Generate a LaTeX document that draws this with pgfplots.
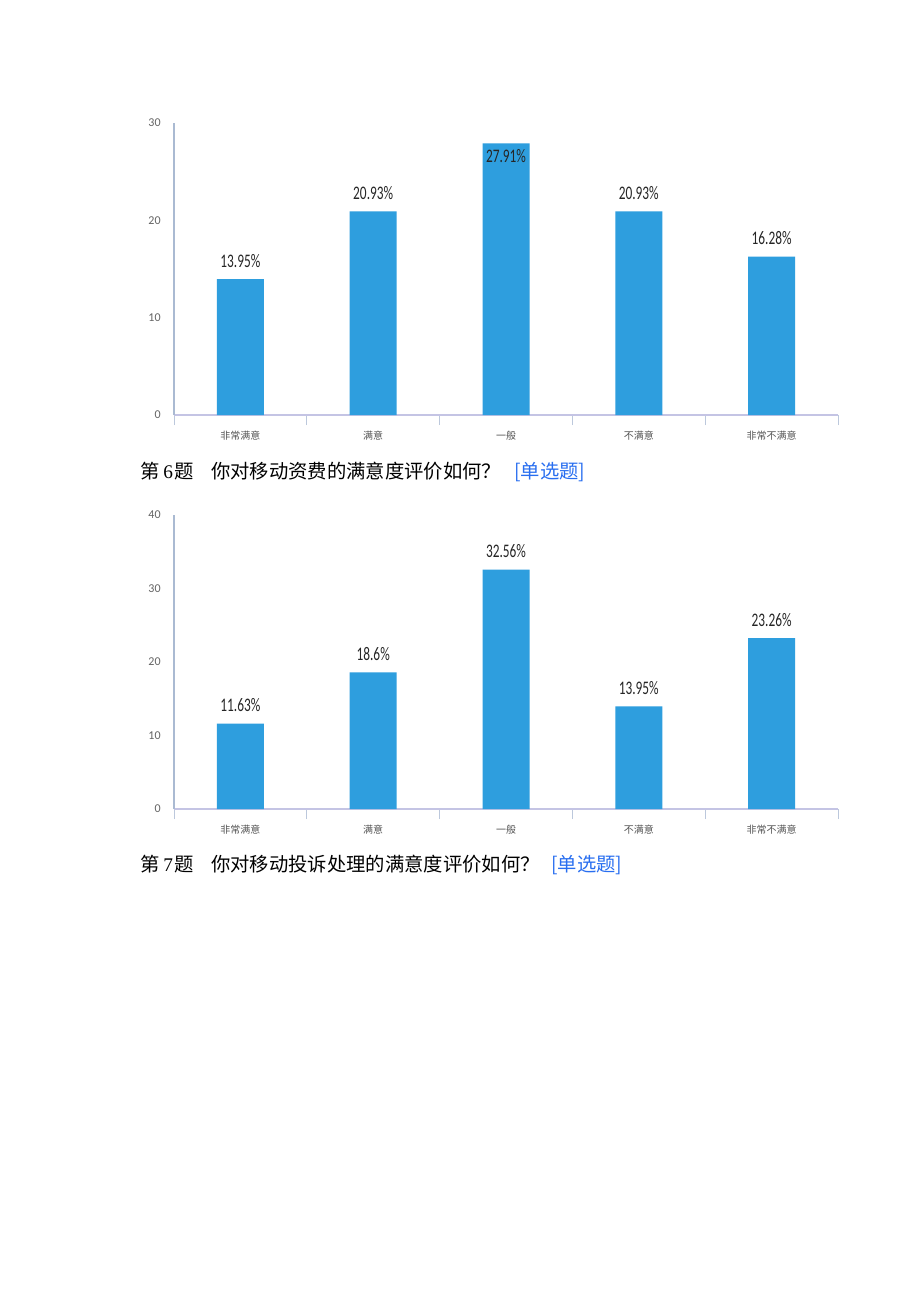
\documentclass[border=0pt]{standalone}
\usepackage{pgfplots}
\pgfplotsset{compat=1.18}
\usepackage{graphicx}
\usepackage{fontspec}
\setmainfont{Carlito}
\newfontfamily\cjk{Noto Sans CJK SC}
\newfontfamily\numf{Liberation Serif}
\definecolor{barblue}{RGB}{46,158,222}
\definecolor{xline}{RGB}{196,196,228}
\definecolor{yline}{RGB}{170,186,210}
\definecolor{sepline}{RGB}{188,200,220}
\definecolor{tickgray}{RGB}{100,100,100}
\definecolor{labgray}{RGB}{85,85,85}
\definecolor{capblue}{RGB}{40,110,240}
\newcommand{\lab}[1]{\scalebox{0.8}[1.15]{#1}}
\pgfplotsset{survey/.style={
  scale only axis, width=498pt, anchor=south west,
  xmin=-0.5, xmax=4.5, ymin=0, clip=false,
  axis x line*=bottom, axis y line*=left,
  every outer x axis line/.append style={-, draw=xline, line width=0.8pt},
  every outer y axis line/.append style={-, draw=yline, line width=0.8pt},
  xtick={-0.5,0.5,1.5,2.5,3.5,4.5},
  x tick label as interval,
  xticklabels={非常满意,满意,一般,不满意,非常不满意},
  x tick label style={font=\cjk\fontsize{7.5}{8}\selectfont, text=labgray, yshift=-1pt},
  tick align=outside, major tick length=7.5pt,
  x tick style={draw=sepline, line width=0.6pt},
  y tick style={draw=none},
  y tick label style={font=\fontsize{9}{10}\selectfont, text=tickgray, xshift=1pt},
  /pgf/number format/assume math mode=true,
}}
\pgfplotsset{lbl/.style={draw=none, mark=none, nodes near coords={\lab{\pgfplotspointmeta}}, point meta=explicit symbolic,
    nodes near coords style={anchor=base, inner sep=0pt, yshift=#1, font=\fontsize{12.5}{14}\selectfont, text=black!85}}}
\begin{document}
\begin{tikzpicture}
\fill[white] (0,0) rectangle (690pt,-976.5pt);
\path[use as bounding box] (0,0) rectangle (690pt,-976.5pt);
% Chart 1
\begin{axis}[survey, at={(130.5pt,-311.25pt)}, height=219pt, ymax=30, ytick={0,10,20,30}]
\addplot[ybar, bar width=35.25pt, fill=barblue, draw=none] coordinates {(0,13.95) (1,20.93) (2,27.91) (3,20.93) (4,16.28)};
\addplot[lbl=9pt] coordinates {(0,13.95)[13.95\%] (1,20.93)[20.93\%] (3,20.93)[20.93\%] (4,16.28)[16.28\%]};
\addplot[lbl=-14.25pt] coordinates {(2,27.91)[27.91\%]};
\end{axis}
% Chart 2
\begin{axis}[survey, at={(130.5pt,-606.75pt)}, height=220.5pt, ymax=40, ytick={0,10,20,30,40}]
\addplot[ybar, bar width=35.25pt, fill=barblue, draw=none] coordinates {(0,11.63) (1,18.6) (2,32.56) (3,13.95) (4,23.26)};
\addplot[lbl=9pt] coordinates {(0,11.63)[11.63\%] (1,18.6)[18.6\%] (2,32.56)[32.56\%] (3,13.95)[13.95\%] (4,23.26)[23.26\%]};
\end{axis}
% Captions
\begin{scope}[every node/.style={anchor=base west, inner sep=0pt, font=\cjk\fontsize{14.5}{16}\selectfont}]
\node at (105pt,-358.5pt) {第};
\node[font=\numf\fontsize{14.5}{16}\selectfont] at (122.25pt,-358.5pt) {6};
\node at (130.5pt,-358.5pt) {题};
\node at (158.25pt,-358.5pt) {你对移动资费的满意度评价如何？};
\node[text=capblue] at (385.5pt,-358.5pt) {[单选题]};
\node at (105pt,-653.25pt) {第};
\node[font=\numf\fontsize{14.5}{16}\selectfont] at (122.25pt,-653.25pt) {7};
\node at (130.5pt,-653.25pt) {题};
\node at (158.25pt,-653.25pt) {你对移动投诉处理的满意度评价如何？};
\node[text=capblue] at (413.25pt,-653.25pt) {[单选题]};
\end{scope}
\end{tikzpicture}
\end{document}
